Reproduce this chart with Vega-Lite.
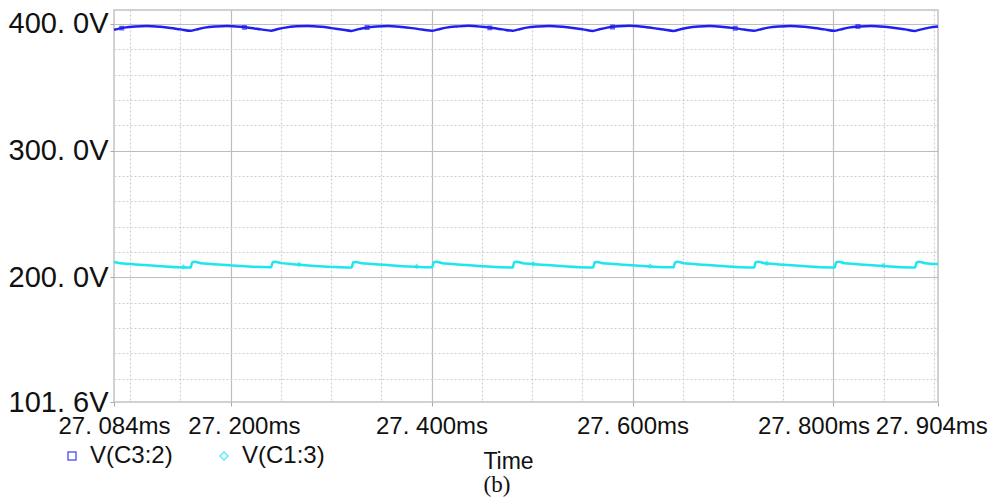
{
  "$schema": "https://vega.github.io/schema/vega-lite/v6.json",
  "width": 824,
  "height": 392,
  "autosize": {"type": "none"},
  "padding": {"left": 114, "top": 10, "right": 55, "bottom": 98},
  "background": "white",
  "config": {"view": {"stroke": "#c2c2c2", "strokeWidth": 1.5}, "axis": {"labelOverlap": false}},
  "title": {"text": "(b)", "orient": "bottom", "frame": "group", "anchor": "middle", "dx": -29, "offset": 1, "font": "Liberation Serif", "fontSize": 23, "fontWeight": "normal", "color": "#111111"},
  "datasets": {
    "waves": [
      {"t": 27.084, "v": 395.4, "series": "V(C3:2)"},
      {"t": 27.0942, "v": 397.1, "series": "V(C3:2)"},
      {"t": 27.1052, "v": 398.0, "series": "V(C3:2)"},
      {"t": 27.1162, "v": 398.4, "series": "V(C3:2)"},
      {"t": 27.1302, "v": 397.7, "series": "V(C3:2)"},
      {"t": 27.1402, "v": 396.8, "series": "V(C3:2)"},
      {"t": 27.1502, "v": 395.7, "series": "V(C3:2)"},
      {"t": 27.1603, "v": 394.6, "series": "V(C3:2)"},
      {"t": 27.1653, "v": 395.5, "series": "V(C3:2)"},
      {"t": 27.1743, "v": 397.1, "series": "V(C3:2)"},
      {"t": 27.1853, "v": 398.0, "series": "V(C3:2)"},
      {"t": 27.1963, "v": 398.4, "series": "V(C3:2)"},
      {"t": 27.2103, "v": 397.7, "series": "V(C3:2)"},
      {"t": 27.2203, "v": 396.8, "series": "V(C3:2)"},
      {"t": 27.2303, "v": 395.7, "series": "V(C3:2)"},
      {"t": 27.2404, "v": 394.7, "series": "V(C3:2)"},
      {"t": 27.2454, "v": 395.6, "series": "V(C3:2)"},
      {"t": 27.2544, "v": 397.1, "series": "V(C3:2)"},
      {"t": 27.2654, "v": 398.1, "series": "V(C3:2)"},
      {"t": 27.2764, "v": 398.4, "series": "V(C3:2)"},
      {"t": 27.2904, "v": 397.7, "series": "V(C3:2)"},
      {"t": 27.3004, "v": 396.7, "series": "V(C3:2)"},
      {"t": 27.3104, "v": 395.6, "series": "V(C3:2)"},
      {"t": 27.3205, "v": 394.5, "series": "V(C3:2)"},
      {"t": 27.3255, "v": 395.5, "series": "V(C3:2)"},
      {"t": 27.3345, "v": 397.0, "series": "V(C3:2)"},
      {"t": 27.3455, "v": 398.0, "series": "V(C3:2)"},
      {"t": 27.3565, "v": 398.4, "series": "V(C3:2)"},
      {"t": 27.3705, "v": 397.6, "series": "V(C3:2)"},
      {"t": 27.3805, "v": 396.7, "series": "V(C3:2)"},
      {"t": 27.3905, "v": 395.6, "series": "V(C3:2)"},
      {"t": 27.4006, "v": 394.6, "series": "V(C3:2)"},
      {"t": 27.4056, "v": 395.5, "series": "V(C3:2)"},
      {"t": 27.4146, "v": 397.1, "series": "V(C3:2)"},
      {"t": 27.4256, "v": 398.0, "series": "V(C3:2)"},
      {"t": 27.4366, "v": 398.5, "series": "V(C3:2)"},
      {"t": 27.4506, "v": 397.7, "series": "V(C3:2)"},
      {"t": 27.4606, "v": 396.8, "series": "V(C3:2)"},
      {"t": 27.4706, "v": 395.7, "series": "V(C3:2)"},
      {"t": 27.4807, "v": 394.6, "series": "V(C3:2)"},
      {"t": 27.4857, "v": 395.5, "series": "V(C3:2)"},
      {"t": 27.4947, "v": 397.1, "series": "V(C3:2)"},
      {"t": 27.5057, "v": 398.0, "series": "V(C3:2)"},
      {"t": 27.5167, "v": 398.4, "series": "V(C3:2)"},
      {"t": 27.5307, "v": 397.7, "series": "V(C3:2)"},
      {"t": 27.5407, "v": 396.8, "series": "V(C3:2)"},
      {"t": 27.5507, "v": 395.7, "series": "V(C3:2)"},
      {"t": 27.5608, "v": 394.5, "series": "V(C3:2)"},
      {"t": 27.5658, "v": 395.5, "series": "V(C3:2)"},
      {"t": 27.5748, "v": 397.1, "series": "V(C3:2)"},
      {"t": 27.5858, "v": 398.1, "series": "V(C3:2)"},
      {"t": 27.5968, "v": 398.5, "series": "V(C3:2)"},
      {"t": 27.6108, "v": 397.7, "series": "V(C3:2)"},
      {"t": 27.6208, "v": 396.7, "series": "V(C3:2)"},
      {"t": 27.6308, "v": 395.6, "series": "V(C3:2)"},
      {"t": 27.6409, "v": 394.5, "series": "V(C3:2)"},
      {"t": 27.6459, "v": 395.4, "series": "V(C3:2)"},
      {"t": 27.6549, "v": 397.0, "series": "V(C3:2)"},
      {"t": 27.6659, "v": 398.0, "series": "V(C3:2)"},
      {"t": 27.6769, "v": 398.4, "series": "V(C3:2)"},
      {"t": 27.6909, "v": 397.6, "series": "V(C3:2)"},
      {"t": 27.7009, "v": 396.7, "series": "V(C3:2)"},
      {"t": 27.7109, "v": 395.6, "series": "V(C3:2)"},
      {"t": 27.721, "v": 394.6, "series": "V(C3:2)"},
      {"t": 27.726, "v": 395.5, "series": "V(C3:2)"},
      {"t": 27.735, "v": 397.1, "series": "V(C3:2)"},
      {"t": 27.746, "v": 398.0, "series": "V(C3:2)"},
      {"t": 27.757, "v": 398.4, "series": "V(C3:2)"},
      {"t": 27.771, "v": 397.7, "series": "V(C3:2)"},
      {"t": 27.781, "v": 396.8, "series": "V(C3:2)"},
      {"t": 27.791, "v": 395.7, "series": "V(C3:2)"},
      {"t": 27.8011, "v": 394.6, "series": "V(C3:2)"},
      {"t": 27.8061, "v": 395.5, "series": "V(C3:2)"},
      {"t": 27.8151, "v": 397.1, "series": "V(C3:2)"},
      {"t": 27.8261, "v": 398.0, "series": "V(C3:2)"},
      {"t": 27.8371, "v": 398.4, "series": "V(C3:2)"},
      {"t": 27.8511, "v": 397.7, "series": "V(C3:2)"},
      {"t": 27.8611, "v": 396.8, "series": "V(C3:2)"},
      {"t": 27.8711, "v": 395.7, "series": "V(C3:2)"},
      {"t": 27.8812, "v": 394.5, "series": "V(C3:2)"},
      {"t": 27.8862, "v": 395.5, "series": "V(C3:2)"},
      {"t": 27.8952, "v": 397.1, "series": "V(C3:2)"},
      {"t": 27.904, "v": 398.0, "series": "V(C3:2)"},
      {"t": 27.084, "v": 212.1, "series": "V(C1:3)"},
      {"t": 27.0902, "v": 211.2, "series": "V(C1:3)"},
      {"t": 27.1002, "v": 210.6, "series": "V(C1:3)"},
      {"t": 27.1603, "v": 207.8, "series": "V(C1:3)"},
      {"t": 27.1618, "v": 211.8, "series": "V(C1:3)"},
      {"t": 27.1643, "v": 212.2, "series": "V(C1:3)"},
      {"t": 27.1703, "v": 211.2, "series": "V(C1:3)"},
      {"t": 27.1803, "v": 210.6, "series": "V(C1:3)"},
      {"t": 27.2404, "v": 207.9, "series": "V(C1:3)"},
      {"t": 27.2419, "v": 211.8, "series": "V(C1:3)"},
      {"t": 27.2444, "v": 212.2, "series": "V(C1:3)"},
      {"t": 27.2504, "v": 211.2, "series": "V(C1:3)"},
      {"t": 27.2604, "v": 210.5, "series": "V(C1:3)"},
      {"t": 27.3205, "v": 207.8, "series": "V(C1:3)"},
      {"t": 27.322, "v": 211.7, "series": "V(C1:3)"},
      {"t": 27.3245, "v": 212.1, "series": "V(C1:3)"},
      {"t": 27.3305, "v": 211.1, "series": "V(C1:3)"},
      {"t": 27.3405, "v": 210.6, "series": "V(C1:3)"},
      {"t": 27.4006, "v": 207.9, "series": "V(C1:3)"},
      {"t": 27.4021, "v": 211.8, "series": "V(C1:3)"},
      {"t": 27.4046, "v": 212.2, "series": "V(C1:3)"},
      {"t": 27.4106, "v": 211.2, "series": "V(C1:3)"},
      {"t": 27.4206, "v": 210.6, "series": "V(C1:3)"},
      {"t": 27.4807, "v": 207.8, "series": "V(C1:3)"},
      {"t": 27.4822, "v": 211.8, "series": "V(C1:3)"},
      {"t": 27.4847, "v": 212.2, "series": "V(C1:3)"},
      {"t": 27.4907, "v": 211.2, "series": "V(C1:3)"},
      {"t": 27.5007, "v": 210.6, "series": "V(C1:3)"},
      {"t": 27.5608, "v": 207.8, "series": "V(C1:3)"},
      {"t": 27.5623, "v": 211.7, "series": "V(C1:3)"},
      {"t": 27.5648, "v": 212.1, "series": "V(C1:3)"},
      {"t": 27.5708, "v": 211.1, "series": "V(C1:3)"},
      {"t": 27.5808, "v": 210.5, "series": "V(C1:3)"},
      {"t": 27.6409, "v": 207.9, "series": "V(C1:3)"},
      {"t": 27.6424, "v": 211.8, "series": "V(C1:3)"},
      {"t": 27.6449, "v": 212.2, "series": "V(C1:3)"},
      {"t": 27.6509, "v": 211.2, "series": "V(C1:3)"},
      {"t": 27.6609, "v": 210.6, "series": "V(C1:3)"},
      {"t": 27.721, "v": 207.8, "series": "V(C1:3)"},
      {"t": 27.7225, "v": 211.8, "series": "V(C1:3)"},
      {"t": 27.725, "v": 212.2, "series": "V(C1:3)"},
      {"t": 27.731, "v": 211.2, "series": "V(C1:3)"},
      {"t": 27.741, "v": 210.6, "series": "V(C1:3)"},
      {"t": 27.8011, "v": 207.8, "series": "V(C1:3)"},
      {"t": 27.8026, "v": 211.8, "series": "V(C1:3)"},
      {"t": 27.8051, "v": 212.2, "series": "V(C1:3)"},
      {"t": 27.8111, "v": 211.2, "series": "V(C1:3)"},
      {"t": 27.8211, "v": 210.6, "series": "V(C1:3)"},
      {"t": 27.8812, "v": 207.8, "series": "V(C1:3)"},
      {"t": 27.8827, "v": 211.8, "series": "V(C1:3)"},
      {"t": 27.8852, "v": 212.2, "series": "V(C1:3)"},
      {"t": 27.8912, "v": 211.2, "series": "V(C1:3)"},
      {"t": 27.904, "v": 210.5, "series": "V(C1:3)"}
    ],
    "markers": [
      {"t": 27.0917, "v": 396.7, "series": "V(C3:2)"},
      {"t": 27.2138, "v": 397.3, "series": "V(C3:2)"},
      {"t": 27.3359, "v": 397.2, "series": "V(C3:2)"},
      {"t": 27.458, "v": 396.9, "series": "V(C3:2)"},
      {"t": 27.5801, "v": 397.5, "series": "V(C3:2)"},
      {"t": 27.7022, "v": 396.6, "series": "V(C3:2)"},
      {"t": 27.8243, "v": 397.9, "series": "V(C3:2)"},
      {"t": 27.153, "v": 208.1, "series": "V(C1:3)"},
      {"t": 27.2681, "v": 210.2, "series": "V(C1:3)"},
      {"t": 27.3852, "v": 208.5, "series": "V(C1:3)"},
      {"t": 27.5013, "v": 210.6, "series": "V(C1:3)"},
      {"t": 27.6174, "v": 208.9, "series": "V(C1:3)"},
      {"t": 27.7335, "v": 211.0, "series": "V(C1:3)"},
      {"t": 27.8496, "v": 209.3, "series": "V(C1:3)"}
    ]
  },
  "layer": [
    {
      "data": {"name": "waves"},
      "mark": {"type": "line", "strokeWidth": 2.5, "interpolate": "monotone"},
      "encoding": {
        "x": {
          "field": "t", "type": "quantitative",
          "scale": {"domain": [27.084, 27.904], "nice": false, "zero": false},
          "axis": {
            "values": [27.084, 27.1, 27.15, 27.2, 27.25, 27.3, 27.35, 27.4, 27.45, 27.5, 27.55, 27.6, 27.65, 27.7, 27.75, 27.8, 27.85, 27.9, 27.904],
            "tickCount": 100,
            "labelExpr": "datum.value == 27.2 ? '\u200b\u00a0\u00a0\u00a0\u00a027. 200ms' : datum.value == 27.8 ? '27. 800ms\u00a0\u00a0\u00a0\u00a0\u00a0\u00a0\u200b' : datum.value == 27.904 ? '27. 904ms\u00a0\u00a0\u200b' : indexof([27.084, 27.4, 27.6], datum.value) >= 0 ? replace(format(datum.value, '.3f'), '.', '. ') + 'ms' : ''",
            "labelFlush": false,
            "labelOverlap": false,
            "labelBound": false,
            "labelFont": "Liberation Sans",
            "labelFontSize": 24,
            "labelColor": "#111111",
            "labelBaseline": "alphabetic",
            "labelPadding": 27,
            "tickSize": 4,
            "tickColor": "#a8a8a8",
            "tickOpacity": {"condition": {"test": "indexof([27.084, 27.2, 27.4, 27.6, 27.8, 27.904], datum.value) >= 0", "value": 1}, "value": 0},
            "grid": true,
            "gridColor": {"condition": {"test": "indexof([27.2, 27.4, 27.6, 27.8], datum.value) >= 0", "value": "#bdbdbd"}, "value": "#cfcfcf"},
            "gridWidth": 1.2,
            "gridDash": {"condition": {"test": "indexof([27.2, 27.4, 27.6, 27.8], datum.value) >= 0", "value": []}, "value": [2, 2]},
            "gridOpacity": {"condition": {"test": "datum.value < 27.09 || datum.value > 27.902", "value": 0}, "value": 1},
            "domain": false,
            "title": "Time",
            "titleFont": "Liberation Sans",
            "titleFontSize": 23,
            "titleFontWeight": "normal",
            "titleColor": "#111111",
            "titleX": 394,
            "titleY": 66,
            "titleAlign": "center",
            "titleBaseline": "alphabetic"
          }
        },
        "y": {
          "field": "v", "type": "quantitative",
          "scale": {"domain": [101.6, 411], "nice": false, "zero": false},
          "axis": {
            "values": [101.6, 120, 140, 160, 180, 200, 220, 240, 260, 280, 300, 320, 340, 360, 380, 400],
            "tickCount": 100,
            "labelExpr": "(abs(datum.value - 101.6) < 0.5 || abs(datum.value - 200) < 0.5 || abs(datum.value - 300) < 0.5 || abs(datum.value - 400) < 0.5) ? replace(format(datum.value, '.1f'), '.', '. ') + 'V' : ''",
            "labelFont": "Liberation Sans",
            "labelFontSize": 29,
            "labelColor": "#111111",
            "labelPadding": 2,
            "labelOverlap": false,
            "labelFlush": false,
            "labelBound": false,
            "tickSize": 4,
            "tickColor": "#a8a8a8",
            "tickOpacity": {"condition": {"test": "abs(datum.value - 101.6) < 0.5 || abs(datum.value - 200) < 0.5 || abs(datum.value - 300) < 0.5 || abs(datum.value - 400) < 0.5", "value": 1}, "value": 0},
            "grid": true,
            "gridColor": {"condition": {"test": "abs(datum.value - 200) < 0.5 || abs(datum.value - 300) < 0.5 || abs(datum.value - 400) < 0.5", "value": "#bdbdbd"}, "value": "#cfcfcf"},
            "gridWidth": 1.2,
            "gridDash": {"condition": {"test": "abs(datum.value - 200) < 0.5 || abs(datum.value - 300) < 0.5 || abs(datum.value - 400) < 0.5", "value": []}, "value": [2, 2]},
            "gridOpacity": {"condition": {"test": "datum.value < 110", "value": 0}, "value": 1},
            "domain": false,
            "title": null
          }
        },
        "color": {
          "field": "series", "type": "nominal",
          "scale": {"domain": ["V(C3:2)", "V(C1:3)"], "range": ["#1f1ff2", "#1ee6ee"]},
          "legend": {"orient": "none", "legendX": -54, "legendY": 434, "direction": "horizontal", "title": null, "labelFont": "Liberation Sans", "labelFontSize": 24, "labelColor": "#111111", "symbolSize": 64, "symbolStrokeWidth": 1.5, "symbolFillColor": "transparent", "labelOffset": 6, "columnPadding": 39, "padding": 0}
        }
      }
    },
    {
      "data": {"name": "markers"},
      "mark": {"type": "point", "filled": false, "size": 12, "strokeWidth": 1.5},
      "encoding": {
        "x": {"field": "t", "type": "quantitative"},
        "y": {"field": "v", "type": "quantitative"},
        "color": {"field": "series", "type": "nominal"},
        "shape": {
          "field": "series", "type": "nominal",
          "scale": {"domain": ["V(C3:2)", "V(C1:3)"], "range": ["square", "diamond"]},
          "legend": {"orient": "none", "legendX": -54, "legendY": 434, "direction": "horizontal", "title": null, "labelFont": "Liberation Sans", "labelFontSize": 24, "labelColor": "#111111", "symbolSize": 64, "symbolStrokeWidth": 1.5, "symbolFillColor": "transparent", "labelOffset": 6, "columnPadding": 39, "padding": 0}
        }
      }
    }
  ]
}
